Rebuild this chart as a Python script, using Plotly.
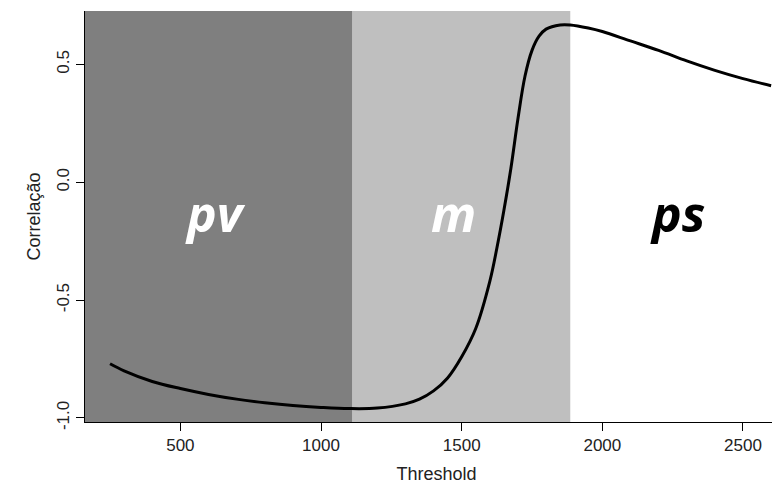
import plotly.graph_objects as go

thr = [250, 300, 400, 500, 600, 700, 800, 900, 1000, 1100, 1200, 1300, 1350, 1400, 1450, 1500, 1550, 1600, 1625, 1650, 1675, 1700, 1725, 1750, 1775, 1800, 1850, 1886, 1950, 2000, 2100, 2200, 2300, 2400, 2500, 2600]
corr = [-0.77, -0.80, -0.845, -0.875, -0.90, -0.92, -0.935, -0.947, -0.955, -0.96, -0.958, -0.94, -0.92, -0.885, -0.83, -0.74, -0.62, -0.42, -0.28, -0.12, 0.06, 0.27, 0.45, 0.56, 0.62, 0.65, 0.668, 0.668, 0.655, 0.64, 0.6, 0.56, 0.515, 0.475, 0.44, 0.41]
regions = [(161, 1112, "#7f7f7f"), (1112, 1886, "#bfbfbf")]
labels = [("pv", 625, "white"), ("m", 1470, "white"), ("ps", 2268, "black")]

fig = go.Figure()
for x0, x1, c in regions:
    fig.add_vrect(x0=x0, x1=x1, fillcolor=c, line_width=0, layer="below", opacity=1)
fig.add_trace(go.Scatter(x=thr, y=corr, mode="lines", line=dict(color="black", width=3, shape="spline")))
for t, x, c in labels:
    fig.add_annotation(x=x, y=-0.13, text=f"<b><i>{t}</i></b>", showarrow=False,
                       font=dict(size=50, color=c, family="Open Sans"))
ax = dict(showgrid=False, zeroline=False, showline=True, linecolor="black", ticks="outside", ticklen=8,
          tickcolor="black", tickfont=dict(size=17, color="#222"))
fig.update_layout(width=780, height=486, plot_bgcolor="white", paper_bgcolor="white",
                  margin=dict(l=77, r=0, t=3, b=72), showlegend=False,
                  font=dict(family="Liberation Sans", color="#222"),
                  xaxis=dict(range=[161, 2660], tickvals=[500, 1000, 1500, 2000, 2500],
                             title=dict(text="Threshold", font=dict(size=18), standoff=12), **ax),
                  yaxis=dict(range=[-1.017, 0.727], tickvals=[-1.0, -0.5, 0.0, 0.5],
                             ticktext=["-1.0", "-0.5", "0.0", "0.5"], tickangle=-90,
                             title=dict(text="Correlação", font=dict(size=18), standoff=8), **ax))
fig.write_html("out.html")
